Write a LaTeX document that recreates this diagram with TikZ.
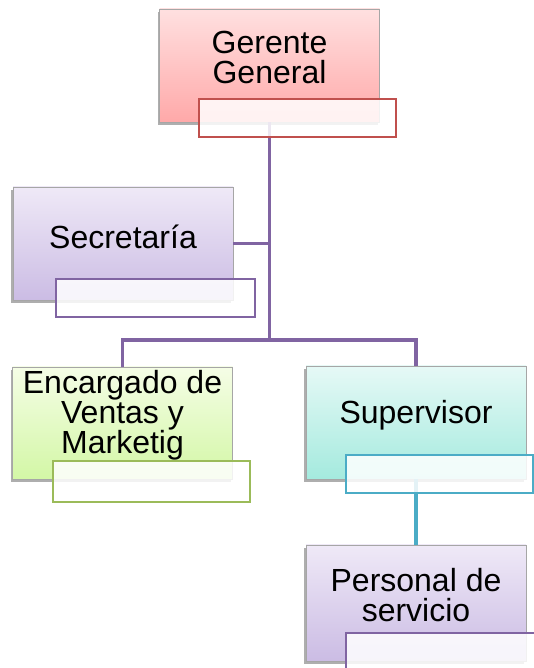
\documentclass[tikz,border=0pt]{standalone}
\usepackage{fontspec}
\setmainfont{Liberation Sans}
\usetikzlibrary{shadows}
\definecolor{linepurple}{HTML}{8064A2}
\definecolor{lineteal}{HTML}{4BACC6}
\definecolor{tagred}{HTML}{C0504D}
\definecolor{taggreen}{HTML}{9BBB59}
\definecolor{pinktop}{HTML}{FFE0E0}
\definecolor{pinkbot}{HTML}{FFA9A9}
\definecolor{lilactop}{HTML}{EFE9F7}
\definecolor{lilacbot}{HTML}{CBBCE4}
\definecolor{limetop}{HTML}{F5FDE6}
\definecolor{limebot}{HTML}{D3F7A6}
\definecolor{aquatop}{HTML}{E6F9F6}
\definecolor{aquabot}{HTML}{A4EADE}
\tikzset{
  unit/.style={draw=black!35, line width=0.6pt, minimum width=220pt, minimum height=113pt, inner sep=0pt,
    drop shadow={shadow xshift=-2pt, shadow yshift=-3pt, opacity=0.45, fill=black!70}},
  pinkbox/.style={unit, top color=pinktop, bottom color=pinkbot},
  lilacbox/.style={unit, top color=lilactop, bottom color=lilacbot},
  limebox/.style={unit, top color=limetop, bottom color=limebot},
  aquabox/.style={unit, top color=aquatop, bottom color=aquabot},
  tag/.style={line width=1.5pt, fill=white, fill opacity=0.85, minimum width=197pt, minimum height=38pt, inner sep=0pt},
  txt/.style={align=center, font=\fontsize{32}{30}\selectfont, inner sep=0pt},
  conn/.style={line width=3.5pt, draw=linepurple},
}

\begin{document}
\begin{tikzpicture}[x=1pt,y=1pt]
    \useasboundingbox (0,0) rectangle (534,668);
    % boxes
    \node[pinkbox] (gg) at (269.5,602.5) {};
    \node[lilacbox] (sec) at (123,424.5) {};
    \node[limebox, minimum height=112pt] (ven) at (122.5,245) {};
    \node[aquabox] (sup) at (416,245.5) {};
    \node[lilacbox, minimum height=116pt] (per) at (416,65) {};
    % texts
    \node[txt] (gg-t) at ([yshift=8pt]gg.center) {Gerente\\General};
    \node[txt] (sec-t) at ([yshift=7pt]sec.center) {Secretaría};
    \node[txt] (ven-t) at ([yshift=8pt]ven.center) {Encargado de\\Ventas y\\Marketig};
    \node[txt] (sup-t) at ([yshift=7pt]sup.center) {Supervisor};
    \node[txt] (per-t) at ([yshift=8pt]per.center) {Personal de\\servicio};
    % connectors
    \coordinate (bus) at (gg.south |- 0,328);
    \draw[conn] (gg.south) |- (sec.east);
    \draw[conn] (gg.south) -- (bus) -| (ven.north);
    \draw[conn] (bus) -| (sup.north);
    \draw[conn, draw=lineteal] (sup.south) -- (per.north);
    % tags
    \node[tag, draw=tagred] (gg-l) at (297.5,550) {};
    \node[tag, draw=linepurple, minimum width=199pt] (sec-l) at (155.5,370) {};
    \node[tag, draw=taggreen, minimum height=41pt] (ven-l) at (151.5,186.5) {};
    \node[tag, draw=lineteal, minimum width=187pt] (sup-l) at (439.5,194) {};
    \node[tag, draw=linepurple, minimum width=190pt] (per-l) at (441,16) {};
\end{tikzpicture}
\end{document}
